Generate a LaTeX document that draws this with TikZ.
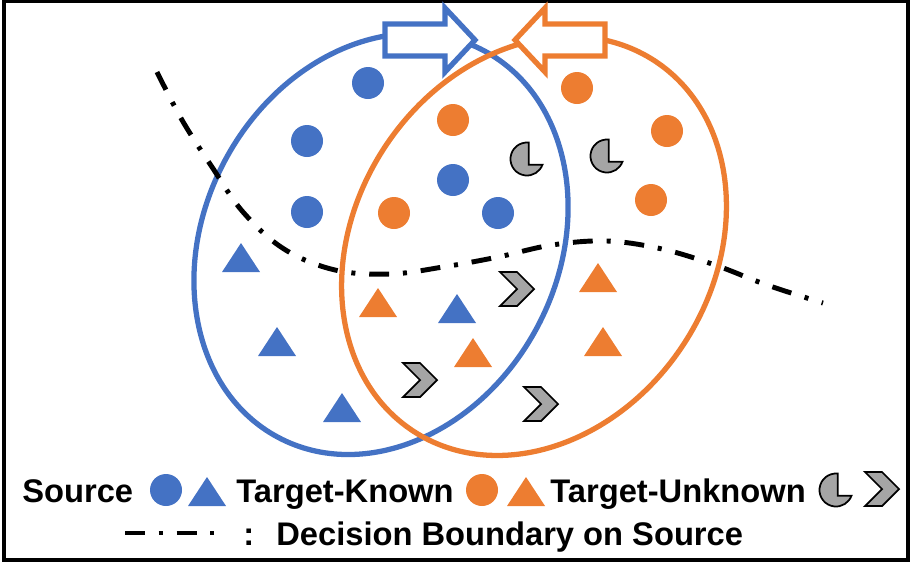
\documentclass[tikz,border=0pt]{standalone}
\usepackage{fontspec}
\setmainfont{Liberation Sans}
\usepackage{tikz}
\definecolor{ublue}{RGB}{68,114,196}
\definecolor{uorange}{RGB}{237,125,49}
\definecolor{ugray}{RGB}{165,165,165}
\newcommand{\ball}[3]{\fill[#1] (#2,-#3) circle [radius=16];}
\newcommand{\tri}[3]{\fill[#1] (#2-19,-#3) -- (#2+19,-#3) -- (#2,-#3+29) -- cycle;}
\newcommand{\pacman}[2]{\draw[unk] (#1+1.7,-#2+16.4) arc [start angle=84,end angle=340,radius=16.5] -- (#1+1.7,-#2-5.7) -- cycle;}
\newcommand{\chevr}[2]{\draw[unk] (#1-17,-#2+17) -- (#1,-#2+17) -- (#1+17,-#2) -- (#1,-#2-17) -- (#1-17,-#2-17) -- (#1,-#2) -- cycle;}

\begin{document}
\begin{tikzpicture}[x=0.02cm,y=0.02cm,
  unk/.style={fill=ugray,draw=black,line width=1pt,line join=miter},
  bound/.style={line width=2.8pt,dash pattern=on 11.3pt off 7.9pt on 2.3pt off 7.9pt},
  legtext/.style={anchor=base west,inner sep=0pt,font=\fontsize{18.6}{22}\selectfont\bfseries}]
\useasboundingbox (0,0) rectangle (911,-572);
%frame
\draw[line width=1.8pt] (4,-1.5) rectangle (908,-560);
%sets
\draw[ublue,line width=3pt,rotate around={62:(381,-244)}] (381,-244) ellipse [x radius=219,y radius=177];
\draw[uorange,line width=3pt,rotate around={57:(534,-246)}] (534,-246) ellipse [x radius=221,y radius=179];
%arrows
\draw[ublue,line width=3pt,fill=white] (385,-24) -- (445,-24) -- (445,-8) -- (475,-40) -- (445,-72) -- (445,-56) -- (385,-56) -- cycle;
\draw[uorange,line width=3pt,fill=white] (605,-24) -- (545,-24) -- (545,-8) -- (515,-40) -- (545,-72) -- (545,-56) -- (605,-56) -- cycle;
%circles
\ball{ublue}{368}{83}
\ball{ublue}{307}{141}
\ball{ublue}{307}{212}
\ball{ublue}{453}{180}
\ball{ublue}{498}{213}
\ball{uorange}{453}{120}
\ball{uorange}{394}{213}
\ball{uorange}{577}{88}
\ball{uorange}{667}{131}
\ball{uorange}{651}{200}
\pacman{527}{159}
\pacman{607}{156}
%triangles
\tri{ublue}{241}{272}
\tri{ublue}{277}{356}
\tri{ublue}{342}{422}
\tri{ublue}{457}{323}
\tri{uorange}{378}{317}
\tri{uorange}{473}{367}
\tri{uorange}{598}{292}
\tri{uorange}{603}{356}
\chevr{517}{289}
\chevr{420}{380}
\chevr{541}{404}
%decision boundary
\draw[bound] plot[smooth,tension=0.6] coordinates {(157,-72) (182,-120) (212,-167) (243,-212) (284,-249) (335,-270) (390,-274) (443,-267) (498,-257) (552,-245) (607,-241) (662,-249) (715,-265) (767,-285) (823,-303)};
%legend
\node[legtext] (src) at (22,-502) {Source};
\ball{ublue}{166}{490}
\tri{ublue}{207}{506}
\node[legtext] (known) at (236,-502) {Target-Known};
\ball{uorange}{482}{490}
\tri{uorange}{526}{506}
\node[legtext] (unknown) at (550,-502) {Target-Unknown};
\pacman{836}{490}
\chevr{882}{489}
\draw[bound] (125,-533) -- (216,-533);
\node[legtext] (colon) at (243,-545) {:};
\node[legtext] (dbs) at (276,-545) {Decision Boundary on Source};
\end{tikzpicture}
\end{document}
